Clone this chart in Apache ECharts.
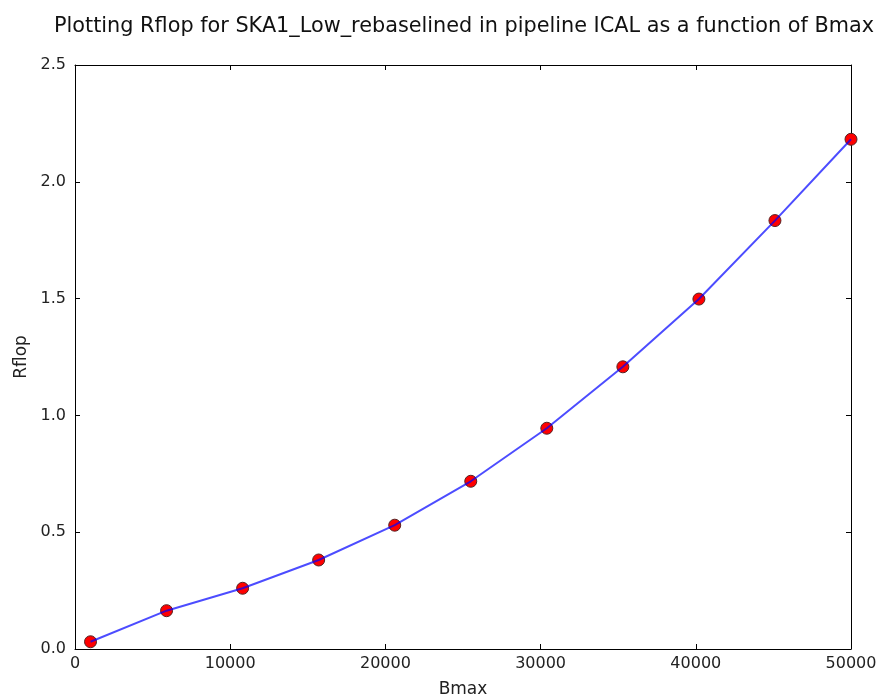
<!DOCTYPE html>
<html>
<head>
<meta charset="utf-8">
<script src="https://cdn.jsdelivr.net/npm/echarts@6/dist/echarts.min.js"></script>
<style>html,body{margin:0;padding:0;background:#fff}#c{width:880px;height:699px}</style>
</head>
<body>
<div id="c"></div>
<script>
const bmax = [1000, 5900, 10800, 15700, 20600, 25500, 30400, 35300, 40200, 45100, 50000];
const rflop = [0.031, 0.164, 0.260, 0.381, 0.530, 0.718, 0.945, 1.208, 1.498, 1.834, 2.182];
const xTicks = [0, 10000, 20000, 30000, 40000, 50000];
const yTicks = [0.0, 0.5, 1.0, 1.5, 2.0, 2.5];

const pts = bmax.map((b, i) => [b, rflop[i]]);
const chart = echarts.init(document.getElementById('c'));
const tickFont = {fontFamily: 'DejaVu Sans', fontSize: 16, color: '#222'};
const frameAxis = {
  axisLine: {show: true, onZero: false, lineStyle: {color: '#000', width: 1}},
  axisTick: {show: true, inside: true, length: 5, lineStyle: {color: '#000'}},
  splitLine: {show: false}
};
chart.setOption({
  animation: false,
  title: {
    text: 'Plotting Rflop for SKA1_Low_rebaselined in pipeline ICAL as a function of Bmax',
    left: 459, top: 11, textAlign: 'center',
    textStyle: {fontFamily: 'DejaVu Sans', fontSize: 20.8, fontWeight: 'normal', color: '#111'}
  },
  grid: {left: 75, right: 29, top: 65, bottom: 50, containLabel: false, outerBoundsMode: 'none'},
  xAxis: [
    Object.assign({type: 'value', min: 0, max: 50000, interval: 10000, position: 'bottom',
      name: 'Bmax', nameLocation: 'middle', nameGap: 32,
      nameTextStyle: {fontFamily: 'DejaVu Sans', fontSize: 17, color: '#222'},
      axisLabel: Object.assign({margin: 7, formatter: v => xTicks.includes(v) ? String(v) : ''}, tickFont)}, frameAxis),
    Object.assign({type: 'value', min: 0, max: 50000, interval: 10000, position: 'top',
      axisLabel: {show: false}}, frameAxis)
  ],
  yAxis: [
    Object.assign({type: 'value', min: 0, max: 2.5, interval: 0.5, position: 'left',
      name: 'Rflop', nameLocation: 'middle', nameGap: 45, nameRotate: 90,
      nameTextStyle: {fontFamily: 'DejaVu Sans', fontSize: 17, color: '#222'},
      axisLabel: Object.assign({margin: 9, formatter: v => yTicks.includes(v) ? v.toFixed(1) : ''}, tickFont)}, frameAxis),
    Object.assign({type: 'value', min: 0, max: 2.5, interval: 0.5, position: 'right',
      axisLabel: {show: false}}, frameAxis)
  ],
  series: [
    {type: 'scatter', data: pts, symbol: 'circle', symbolSize: 12, z: 2,
     itemStyle: {color: '#ff0000', borderColor: '#552222', borderWidth: 1, opacity: 1}},
    {type: 'line', data: pts, showSymbol: false, symbol: 'none', z: 3,
     lineStyle: {color: 'rgba(0,0,255,0.7)', width: 2}}
  ]
});
</script>
</body>
</html>
